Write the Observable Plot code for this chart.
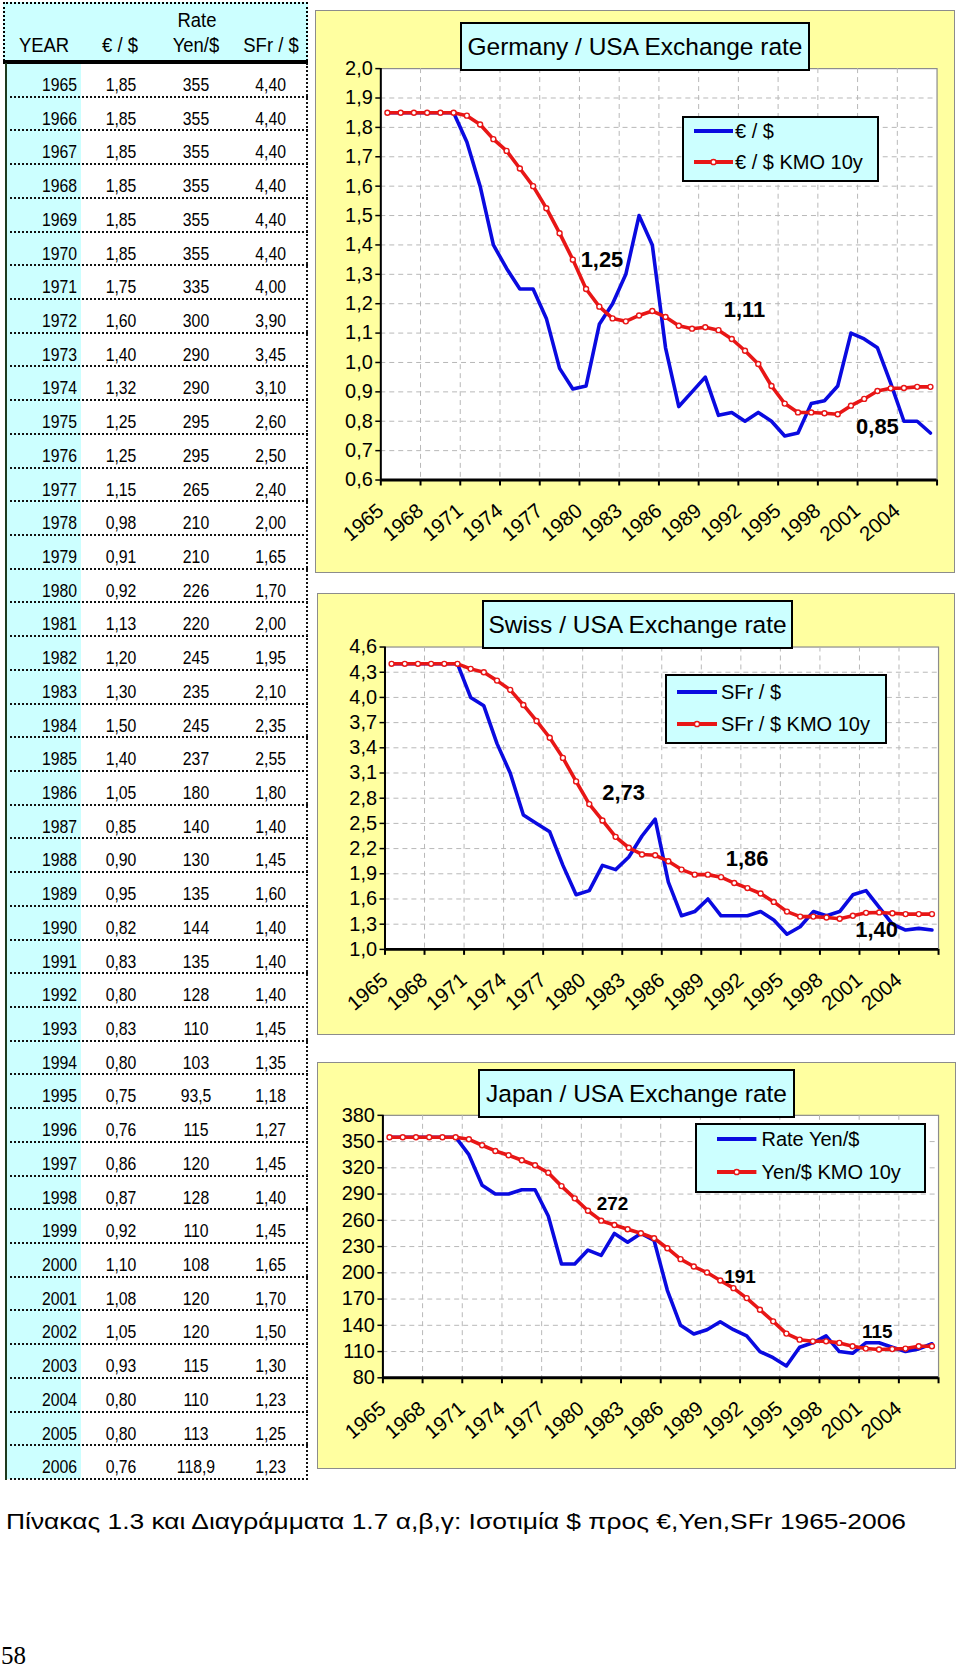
<!DOCTYPE html>
<html><head><meta charset="utf-8">
<script src="https://cdn.jsdelivr.net/npm/d3@7"></script>
<script src="https://cdn.jsdelivr.net/npm/@observablehq/plot@0.6"></script>
<style>
html,body{margin:0;padding:0;background:#fff;}
body{width:960px;height:1666px;position:relative;overflow:hidden;font-family:"Liberation Sans",Arial,Helvetica,sans-serif;color:#000;}
.panel{position:absolute;background:#FFFFA0;border:1px solid #8c8c8c;box-sizing:border-box;}
.panel svg{position:absolute;left:-1px;top:-1px;}
.tbox{position:absolute;background:#CCFFFF;border:2px solid #000;box-sizing:border-box;display:flex;align-items:center;justify-content:center;font-size:24.5px;white-space:nowrap;z-index:2;}
.legend{position:absolute;background:#CCFFFF;border:2px solid #000;box-sizing:border-box;z-index:2;}
.legend .t{position:absolute;font-size:20px;white-space:nowrap;line-height:1;transform:translateY(-50%);}
.legend svg{position:absolute;overflow:visible;}
.cell{position:absolute;white-space:nowrap;line-height:1;transform-origin:0 0;}
.blk{position:absolute;box-sizing:border-box;}
</style></head><body>
<script>
// ---------------- data ----------------
const years = [1965,1966,1967,1968,1969,1970,1971,1972,1973,1974,1975,1976,1977,1978,1979,1980,1981,1982,1983,1984,1985,1986,1987,1988,1989,1990,1991,1992,1993,1994,1995,1996,1997,1998,1999,2000,2001,2002,2003,2004,2005,2006];
const eurUsd = [1.85,1.85,1.85,1.85,1.85,1.85,1.75,1.60,1.40,1.32,1.25,1.25,1.15,0.98,0.91,0.92,1.13,1.20,1.30,1.50,1.40,1.05,0.85,0.90,0.95,0.82,0.83,0.80,0.83,0.80,0.75,0.76,0.86,0.87,0.92,1.10,1.08,1.05,0.93,0.80,0.80,0.76];
const yenUsd = [355,355,355,355,355,355,335,300,290,290,295,295,265,210,210,226,220,245,235,245,237,180,140,130,135,144,135,128,110,103,93.5,115,120,128,110,108,120,120,115,110,113,118.9];
const sfrUsd = [4.40,4.40,4.40,4.40,4.40,4.40,4.00,3.90,3.45,3.10,2.60,2.50,2.40,2.00,1.65,1.70,2.00,1.95,2.10,2.35,2.55,1.80,1.40,1.45,1.60,1.40,1.40,1.40,1.45,1.35,1.18,1.27,1.45,1.40,1.45,1.65,1.70,1.50,1.30,1.23,1.25,1.23];
// 10-year moving averages (KMO 10y)
const eurUsdKmo = [1.85,1.85,1.85,1.85,1.85,1.85,1.84,1.81,1.76,1.72,1.66,1.60,1.525,1.44,1.35,1.25,1.19,1.15,1.14,1.16,1.175,1.155,1.125,1.115,1.12,1.11,1.08,1.04,0.995,0.92,0.86,0.83,0.83,0.827,0.824,0.853,0.876,0.903,0.912,0.913,0.917,0.917];
const sfrUsdKmo = [4.40,4.40,4.40,4.40,4.40,4.40,4.34,4.30,4.20,4.09,3.91,3.72,3.52,3.28,3.00,2.73,2.535,2.34,2.21,2.13,2.12,2.05,1.95,1.89,1.89,1.86,1.79,1.73,1.665,1.565,1.45,1.39,1.39,1.38,1.365,1.40,1.435,1.44,1.43,1.42,1.42,1.42];
const yenUsdKmo = [355,355,355,355,355,355,352.6,345.8,339.3,334.4,328.7,323,314.3,299.1,285.1,271,259.6,254.7,249.8,245.2,239.5,228.1,215.6,207.2,200.3,191.2,182.5,171.1,157.8,144.5,130.5,123.6,121.7,121.7,119.9,116,113.4,112.3,112.8,113.4,116,116];
// axis ticks and labels
const xTickLabels = ["1965","1968","1971","1974","1977","1980","1983","1986","1989","1992","1995","1998","2001","2004"];
const eurTicks = [0.6,0.7,0.8,0.9,1.0,1.1,1.2,1.3,1.4,1.5,1.6,1.7,1.8,1.9,2.0];
const sfrTicks = [1.0,1.3,1.6,1.9,2.2,2.5,2.8,3.1,3.4,3.7,4.0,4.3,4.6];
const yenTicks = [80,110,140,170,200,230,260,290,320,350,380];
// data labels (text, anchor year, anchor value)
const eurLabels = [{year:1981.2,value:1.348,text:"1,25"},{year:1991.96,value:1.178,text:"1,11"},{year:2002.0,value:0.78,text:"0,85"}];
const sfrLabels = [{year:1982.6,value:2.86,text:"2,73"},{year:1991.97,value:2.08,text:"1,86"},{year:2001.8,value:1.237,text:"1,40"}];
const yenLabels = [{year:1981.85,value:278.6,text:"272"},{year:1991.5,value:195.8,text:"191"},{year:2001.87,value:132,text:"115"}];
// texts
const tableHeader = ["YEAR","€ / $","Yen/$","SFr / $"];
const tableHeaderTop = "Rate";
const titles = ["Germany / USA Exchange rate","Swiss / USA Exchange rate","Japan / USA Exchange rate"];
const legendTexts = [["€ / $","€ / $ KMO 10y"],["SFr / $","SFr / $ KMO 10y"],["Rate Yen/$","Yen/$ KMO 10y"]];
const captionText = "Πίνακας 1.3 και Διαγράμματα 1.7 α,β,γ: Ισοτιμία $ προς €,Yen,SFr 1965-2006";
const pageNumber = "58";

// ---------------- helpers ----------------
const BLUE = "#0a0ae0", RED = "#e81616", CYAN = "#CCFFFF";
const body = document.body;
function el(tag, cls, css, txt){
  const e = document.createElement(tag);
  if (cls) e.className = cls;
  if (css) Object.assign(e.style, css);
  if (txt != null) e.textContent = txt;
  return e;
}
function cell(parent, text, x, yc, align, size, sx){
  const e = el("div","cell",{left:x+"px",top:yc+"px",fontSize:size+"px"},text);
  const tx = align==="right" ? "-100%" : align==="center" ? "-50%" : "0";
  e.style.transform = `scaleX(${sx}) translate(${tx},-50%)`;
  parent.appendChild(e);
  return e;
}
const comma2 = v => v.toFixed(2).replace(".", ",");
const commaRaw = v => String(v).replace(".", ",");

// ---------------- table ----------------
(function table(){
  const L = 3, R = 308, top = 2, headB = 61, rowTop = 63, bottom = 1479;
  const rowH = (bottom - rowTop) / years.length;
  body.appendChild(el("div","blk",{left:L+"px",top:top+"px",width:(R-L)+"px",height:(headB-top)+"px",background:CYAN,borderTop:"2px dotted #000",borderLeft:"2px dotted #000",borderRight:"2px dotted #000"}));
  body.appendChild(el("div","blk",{left:"6px",top:rowTop+"px",width:"75px",height:(bottom-rowTop)+"px",background:CYAN}));
  for (let i = 0; i < years.length; i++) {
    const yb = rowTop + (i+1)*rowH - 1;
    body.appendChild(el("div","blk",{left:"5px",top:yb+"px",width:(R-5)+"px",height:"0px",borderTop:"2px dotted #111"}));
  }
  body.appendChild(el("div","blk",{left:L+"px",top:"59.5px",width:(R-L)+"px",height:"4px",background:"#000"}));
  body.appendChild(el("div","blk",{left:"4.5px",top:rowTop+"px",width:"2.5px",height:(bottom-rowTop+1)+"px",background:"#1e3a1e"}));
  body.appendChild(el("div","blk",{left:(R-2)+"px",top:rowTop+"px",width:"0px",height:(bottom-rowTop+1)+"px",borderLeft:"2px dotted #111"}));
  // header
  cell(body, tableHeaderTop, 197, 19.5, "center", 20.5, 0.9);
  cell(body, tableHeader[0], 44, 44.5, "center", 20.5, 0.9);
  cell(body, tableHeader[1], 120, 44.5, "center", 20.5, 0.9);
  cell(body, tableHeader[2], 196, 44.5, "center", 20.5, 0.9);
  cell(body, tableHeader[3], 270.5, 44.5, "center", 20.5, 0.9);
  years.forEach((y, i) => {
    const yc = rowTop + i*rowH + 21;
    cell(body, String(y), 77, yc, "right", 19, 0.83);
    cell(body, comma2(eurUsd[i]), 120.5, yc, "center", 19, 0.83);
    cell(body, commaRaw(yenUsd[i]), 195.5, yc, "center", 19, 0.83);
    cell(body, comma2(sfrUsd[i]), 286, yc, "right", 19, 0.83);
  });
})();

// ---------------- charts ----------------
function labelFor(d){
  const k = Math.round((d - (years[0]-0.5)) / 3);
  return xTickLabels[k] ?? "";
}
function makeChart(cfg){
  const rows = years.map((year, i) => ({year, rate: cfg.rate[i], kmo: cfg.kmo[i]}));
  const xMin = years[0]-0.5, xMax = years[years.length-1]+0.5;
  const xTicks = d3.range(xMin, xMax + 0.01, 3);
  const P = cfg.panel, F = cfg.frame;
  const panel = el("div","panel",{left:P.left+"px",top:P.top+"px",width:P.w+"px",height:P.h+"px"});
  body.appendChild(panel);
  const svg = Plot.plot({
    width: P.w, height: P.h,
    marginLeft: F.left - P.left, marginRight: P.left + P.w - F.right,
    marginTop: F.top - P.top, marginBottom: P.top + P.h - F.bottom,
    style: {background: "transparent", fontFamily: '"Liberation Sans",Arial,sans-serif', fontSize: "20px", color: "#000", overflow: "visible"},
    x: {type: "linear", domain: [xMin, xMax], label: null},
    y: {domain: [cfg.yTicks[0], cfg.yTicks[cfg.yTicks.length-1]], label: null},
    marks: [
      Plot.frame({fill: "white", stroke: "#8c8c8c", strokeWidth: 1.2}),
      Plot.gridY(cfg.yTicks.slice(1, -1), {stroke: "#b8b8b8", strokeOpacity: 1, strokeDasharray: "5,4", strokeWidth: 1}),
      Plot.gridX(xTicks.slice(1, -1), {stroke: "#b8b8b8", strokeOpacity: 1, strokeDasharray: "5,4", strokeWidth: 1}),
      Plot.line(rows, {x: "year", y: "rate", stroke: BLUE, strokeWidth: 3.6, strokeLinejoin: "round"}),
      Plot.line(rows, {x: "year", y: "kmo", stroke: RED, strokeWidth: 3.6, strokeLinejoin: "round"}),
      Plot.dot(rows, {x: "year", y: "kmo", r: 2.5, fill: "white", stroke: RED, strokeWidth: 1.4}),
      Plot.ruleY([cfg.yTicks[0]], {stroke: "#000", strokeWidth: 3}),
      Plot.ruleX([xMin], {stroke: "#000", strokeWidth: 2}),
      Plot.axisY(cfg.yTicks, {tickSize: 5, tickPadding: 3, tickFormat: cfg.yFormat, fontSize: 20, strokeWidth: 1.5, label: null}),
      Plot.axisX(xTicks, {tickSize: 6, tickPadding: 22, tickRotate: -40, tickFormat: labelFor, fontSize: 20.5, strokeWidth: 2, label: null}),
      Plot.text(cfg.labels, {x: "year", y: "value", text: "text", fontWeight: "bold", fontSize: cfg.labelSize, fill: "#000"})
    ]
  });
  panel.appendChild(svg);
  // title box
  const T = cfg.title;
  body.appendChild(el("div","tbox",{left:T.left+"px",top:T.top+"px",width:T.w+"px",height:T.h+"px"}, cfg.titleText));
  // legend box
  const G = cfg.legend;
  const lg = el("div","legend",{left:G.left+"px",top:G.top+"px",width:G.w+"px",height:G.h+"px"});
  body.appendChild(lg);
  [[BLUE,false],[RED,true]].forEach(([c, mk], j) => {
    const yy = G.rows[j] - G.top - 2;
    const sx = G.sx - G.left - 2, len = G.len;
    const s = document.createElementNS("http://www.w3.org/2000/svg","svg");
    s.setAttribute("width", len); s.setAttribute("height", 10);
    s.style.left = sx + "px"; s.style.top = (yy - 5) + "px";
    s.innerHTML = `<line x1="0" y1="5" x2="${len}" y2="5" stroke="${c}" stroke-width="4"/>` +
      (mk ? `<circle cx="${len/2}" cy="5" r="2.6" fill="white" stroke="${c}" stroke-width="1.5"/>` : "");
    lg.appendChild(s);
    const t = el("div","t",{left:(G.tx - G.left - 2)+"px",top:yy+"px"}, cfg.legendText[j]);
    lg.appendChild(t);
  });
}
const fmt1 = d => d.toFixed(1).replace(".", ",");
makeChart({
  rate: eurUsd, kmo: eurUsdKmo, yTicks: eurTicks, yFormat: fmt1, labels: eurLabels, labelSize: 22,
  panel: {left:315, top:10, w:640, h:563}, frame: {left:380.5, right:938.5, top:68.3, bottom:481},
  title: {left:460, top:22, w:350, h:49}, titleText: titles[0],
  legend: {left:682, top:116, w:197, h:66, rows:[131,162], sx:694, len:39, tx:735}, legendText: legendTexts[0]
});
makeChart({
  rate: sfrUsd, kmo: sfrUsdKmo, yTicks: sfrTicks, yFormat: fmt1, labels: sfrLabels, labelSize: 22,
  panel: {left:317, top:593, w:638, h:442}, frame: {left:384.7, right:940, top:646.7, bottom:950},
  title: {left:482, top:600, w:311, h:49}, titleText: titles[1],
  legend: {left:665, top:674, w:222, h:70, rows:[691.7,724], sx:677, len:40, tx:721}, legendText: legendTexts[1]
});
makeChart({
  rate: yenUsd, kmo: yenUsdKmo, yTicks: yenTicks, yFormat: d => String(d), labels: yenLabels, labelSize: 19,
  panel: {left:317, top:1062, w:639, h:407}, frame: {left:382.6, right:940, top:1115, bottom:1378.3},
  title: {left:478, top:1069, w:317, h:49}, titleText: titles[2],
  legend: {left:695, top:1123, w:231, h:70, rows:[1139,1171.7], sx:716.6, len:39.4, tx:761.5}, legendText: legendTexts[2]
});

// ---------------- caption & page number ----------------
(function(){
  const cap = el("div","cell",{left:"6px",top:"1523px",fontSize:"21.5px"}, captionText);
  body.appendChild(cap);
  const w = cap.getBoundingClientRect().width;
  cap.style.transform = `scaleX(${900 / w}) translateY(-50%)`;
  const pn = el("div","cell",{left:"1px",top:"1655px",fontSize:"25px",fontFamily:'"Liberation Serif","Times New Roman",serif'}, pageNumber);
  pn.style.transform = "translateY(-50%)";
  body.appendChild(pn);
})();
</script>
</body></html>
